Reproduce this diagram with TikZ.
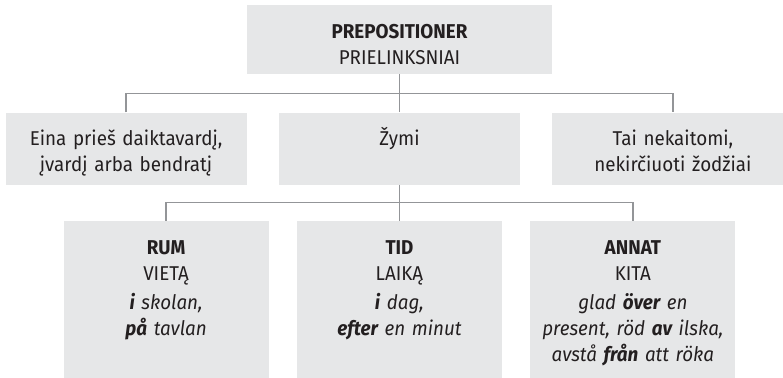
\documentclass[tikz,border=0pt]{standalone}
\usepackage{fontspec}
\setmainfont{Fira Sans}[FakeStretch=0.94]
\usetikzlibrary{positioning,calc}

\definecolor{boxgray}{RGB}{230,231,232}
\definecolor{linegray}{RGB}{147,149,152}
\definecolor{inkgray}{RGB}{35,31,32}

\begin{document}
\begin{tikzpicture}[x=1pt,y=1pt,
	gbox/.style={fill=boxgray,text=inkgray,align=center,inner sep=0pt,
		font=\fontsize{20}{26}\selectfont,text height=33pt},
	lvlone/.style={gbox,text width=305pt,text depth=36pt},
	lvltwo/.style={gbox,text width=241pt,text depth=39pt},
	lvlthree/.style={gbox,text width=205pt,text depth=125pt},
	conn/.style={draw=linegray,line width=1.3pt}]
	\useasboundingbox (0,0) rectangle (783,-377);

	\node[lvlone,anchor=north] (prep) at (399.5,-5) {\textbf{PREPOSITIONER}\\PRIELINKSNIAI};

	\node[lvltwo] (zymi) [below=38pt of prep] {Žymi};
	\node[lvltwo] (eina) [left=32pt of zymi] {Eina prieš daiktavardį,\\įvardį arba bendratį};
	\node[lvltwo] (tai) [right=32pt of zymi] {Tai nekaitomi,\\nekirčiuoti žodžiai};

	\node[lvlthree] (tid) [below=36pt of zymi] {\textbf{TID}\\LAIKĄ\\[3pt]
		\textit{\textbf{i} dag,}\\\textit{\textbf{efter} en minut}};
	\node[lvlthree] (rum) [left=28pt of tid] {\textbf{RUM}\\VIETĄ\\[3pt]
		\textit{\textbf{i} skolan,}\\\textit{\textbf{på} tavlan}};
	\node[lvlthree] (annat) [right=28pt of tid] {\textbf{ANNAT}\\KITA\\[3pt]
		\textit{glad \textbf{över} en}\\\textit{present, röd \textbf{av} ilska,}\\\textit{avstå \textbf{från} att röka}};

	\coordinate (split1) at ($(prep.south)!0.5!(zymi.north)$);
	\coordinate (split2) at ($(zymi.south)!0.5!(tid.north)$);

	\draw[conn] (prep.south) -- (zymi.north);
	\draw[conn] (eina.north) |- (split1) -| (tai.north);
	\draw[conn] (zymi.south) -- (tid.north);
	\draw[conn] (rum.north) |- (split2) -| (annat.north);
\end{tikzpicture}
\end{document}
